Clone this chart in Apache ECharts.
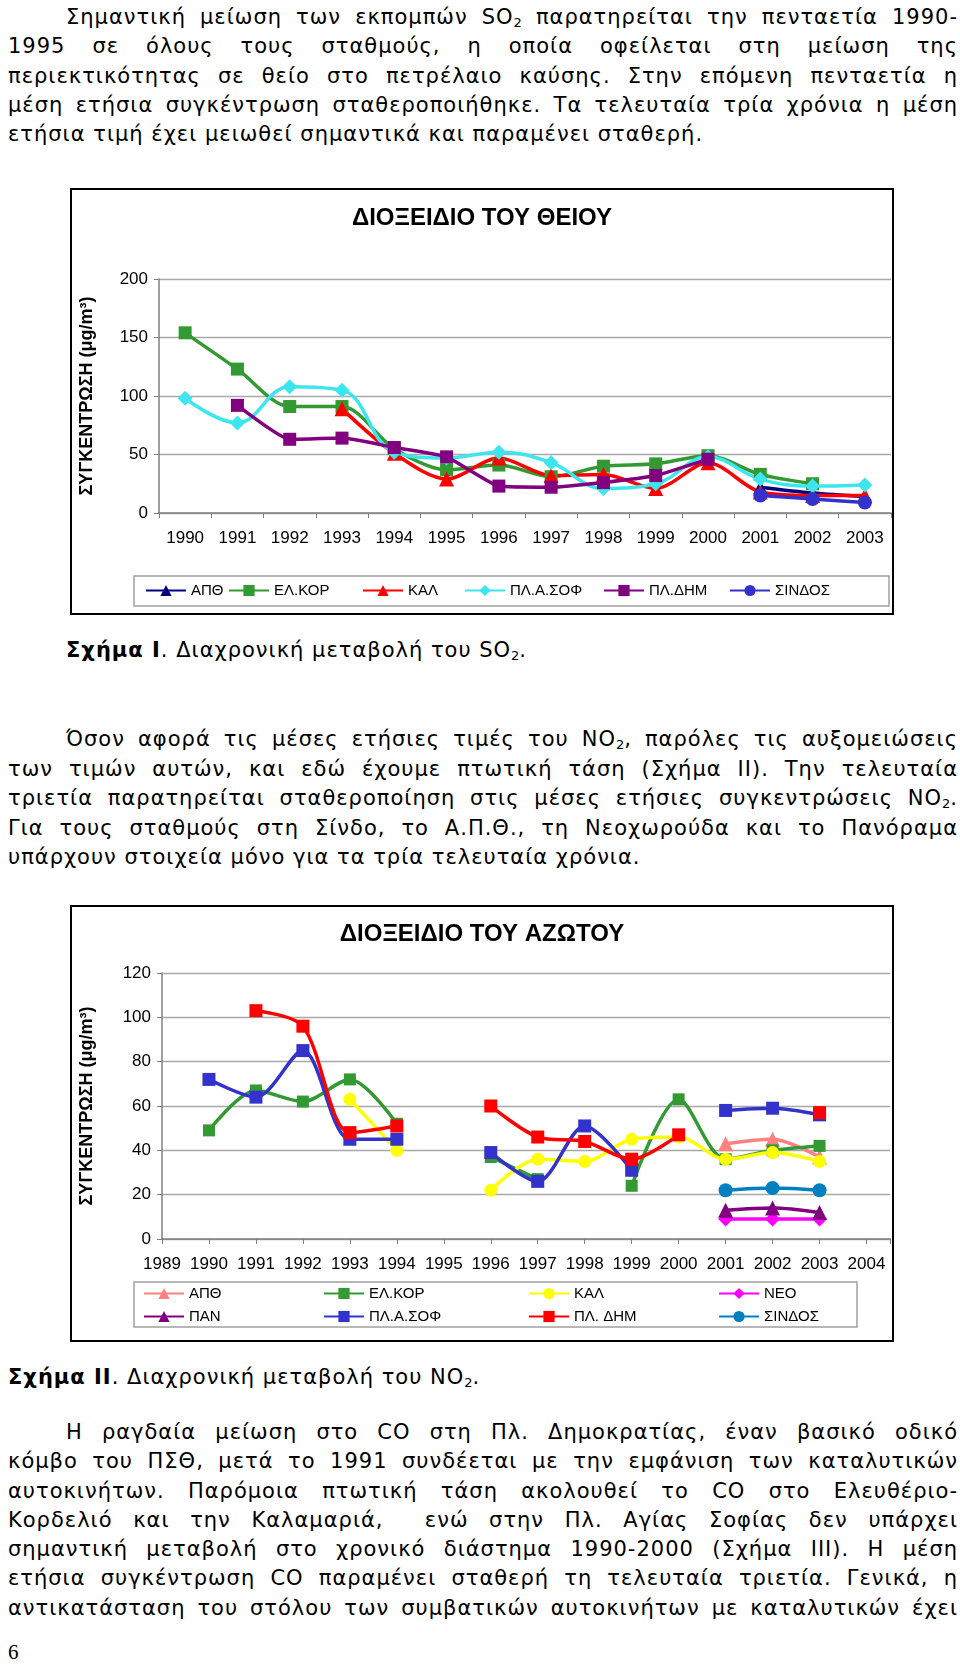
<!DOCTYPE html>
<html><head><meta charset="utf-8">
<script src="https://cdn.jsdelivr.net/npm/echarts@6/dist/echarts.min.js"></script>
<style>
body{margin:0;width:960px;height:1664px;position:relative;background:#fff;font-family:"DejaVu Sans",sans-serif;color:#000;overflow:hidden}
.p{position:absolute;left:8px;width:950px;font-size:21px;letter-spacing:1px;line-height:29.3px}
.p div{text-align:justify;text-align-last:justify}
.p div.i{padding-left:58px}
.p div.last{text-align-last:left}
sub{font-size:13px;vertical-align:-3px;line-height:0;letter-spacing:0}
.frame{position:absolute;border:2px solid #000;box-sizing:border-box;pointer-events:none}
.cap{position:absolute;font-size:21px;letter-spacing:1px;line-height:29px;white-space:nowrap}
#c1,#c2{position:absolute}
</style></head>
<body>
<div class="p" style="top:3px">
<div class="i">Σημαντική μείωση των εκπομπών SO<sub>2</sub> παρατηρείται την πενταετία 1990-</div>
<div>1995 σε όλους τους σταθμούς, η οποία οφείλεται στη μείωση της</div>
<div>περιεκτικότητας σε θείο στο πετρέλαιο καύσης. Στην επόμενη πενταετία η</div>
<div>μέση ετήσια συγκέντρωση σταθεροποιήθηκε. Τα τελευταία τρία χρόνια η μέση</div>
<div class="last">ετήσια τιμή έχει μειωθεί σημαντικά και παραμένει σταθερή.</div>
</div>

<div id="c1" style="left:70px;top:188px;width:824px;height:427px"></div>
<div class="frame" style="left:70px;top:188px;width:824px;height:427px"></div>

<div class="cap" style="left:66px;top:636px"><b>Σχήμα Ι</b>. Διαχρονική μεταβολή του SO<sub>2</sub>.</div>

<div class="p" style="top:725px;line-height:29.5px">
<div class="i">Όσον αφορά τις μέσες ετήσιες τιμές του NO<sub>2</sub>, παρόλες τις αυξομειώσεις</div>
<div>των τιμών αυτών, και εδώ έχουμε πτωτική τάση (Σχήμα ΙΙ). Την τελευταία</div>
<div>τριετία παρατηρείται σταθεροποίηση στις μέσες ετήσιες συγκεντρώσεις NO<sub>2</sub>.</div>
<div>Για τους σταθμούς στη Σίνδο, το Α.Π.Θ., τη Νεοχωρούδα και το Πανόραμα</div>
<div class="last">υπάρχουν στοιχεία μόνο για τα τρία τελευταία χρόνια.</div>
</div>

<div id="c2" style="left:70px;top:905px;width:824px;height:437px"></div>
<div class="frame" style="left:70px;top:905px;width:824px;height:437px"></div>

<div class="cap" style="left:8px;top:1363px"><b>Σχήμα ΙΙ</b>. Διαχρονική μεταβολή του NO<sub>2</sub>.</div>

<div class="p" style="top:1418px">
<div class="i">Η ραγδαία μείωση στο CO στη Πλ. Δημοκρατίας, έναν βασικό οδικό</div>
<div>κόμβο του ΠΣΘ, μετά το 1991 συνδέεται με την εμφάνιση των καταλυτικών</div>
<div>αυτοκινήτων. Παρόμοια πτωτική τάση ακολουθεί το CO στο Ελευθέριο-</div>
<div>Κορδελιό και την Καλαμαριά, &nbsp;ενώ στην Πλ. Αγίας Σοφίας δεν υπάρχει</div>
<div>σημαντική μεταβολή στο χρονικό διάστημα 1990-2000 (Σχήμα ΙΙΙ). Η μέση</div>
<div>ετήσια συγκέντρωση CO παραμένει σταθερή τη τελευταία τριετία. Γενικά, η</div>
<div>αντικατάσταση του στόλου των συμβατικών αυτοκινήτων με καταλυτικών έχει</div>
</div>
<div style="position:absolute;left:8px;top:1640px;font-family:'Liberation Serif',serif;font-size:21px">6</div>

<script>
// ---------- Chart I data (SO2) ----------
const years1 = ['1990','1991','1992','1993','1994','1995','1996','1997','1998','1999','2000','2001','2002','2003'];
const so2_APTH  = [null,null,null,null,null,null,null,null,null,null,null,22,17,14];
const so2_ELKOR = [154,123,91,91,55,37,41,31,40,42,49,33,25,null];
const so2_KAL   = [null,null,null,89,51,29,47,32,33,21,43,18,15,15];
const so2_SOF   = [98,77,108,105,52,47,52,43,21,25,48,29,23,24];
const so2_DHM   = [null,92,63,64,56,48,23,22,26,32,46,null,null,null];
const so2_SIND  = [null,null,null,null,null,null,null,null,null,null,null,15,12,9];
const names1 = ['ΑΠΘ','ΕΛ.ΚΟΡ','ΚΑΛ','ΠΛ.Α.ΣΟΦ','ΠΛ.ΔΗΜ','ΣΙΝΔΟΣ'];
const yTicks1 = [0,50,100,150,200];

// ---------- Chart II data (NO2) ----------
const years2 = [1989,1990,1991,1992,1993,1994,1995,1996,1997,1998,1999,2000,2001,2002,2003,2004];
const no2_APTH  = [null,null,null,null,null,null,null,null,null,null,null,null,43,45,37,null];
const no2_ELKOR = [null,49,67,62,72,52,null,37,27,null,24,63,36,40,42,null];
const no2_KAL   = [null,null,null,null,63,40,null,22,36,35,45,46,36,39,35,null];
const no2_NEO   = [null,null,null,null,null,null,null,null,null,null,null,null,9,9,9,null];
const no2_PAN   = [null,null,null,null,null,null,null,null,null,null,null,null,13,14,12,null];
const no2_SOF   = [null,72,64,85,45,45,null,39,26,51,31,null,58,59,56,null];
const no2_DHM   = [null,null,103,96,48,51,null,60,46,44,36,47,null,null,57,null];
const no2_SIND  = [null,null,null,null,null,null,null,null,null,null,null,null,22,23,22,null];
const names2 = ['ΑΠΘ','ΕΛ.ΚΟΡ','ΚΑΛ','ΝΕΟ','ΠΑΝ','ΠΛ.Α.ΣΟΦ','ΠΛ. ΔΗΜ','ΣΙΝΔΟΣ'];
const yTicks2 = [0,20,40,60,80,100,120];

const FONT = '"Liberation Sans", Arial, sans-serif';

function ser(name, data, color, symbol, size, smooth) {
  return {
    type: 'line', name: name, data: data, smooth: smooth,
    connectNulls: false, symbol: symbol, symbolSize: size,
    showAllSymbol: true,
    lineStyle: {color: color, width: 3.5},
    itemStyle: {color: color, borderWidth: 0},
    emphasis: {disabled: true}, animation: false
  };
}

function yAxisOpt(ticks, gap) {
  return {
    type: 'value', min: ticks[0], max: ticks[ticks.length-1], interval: ticks[1]-ticks[0],
    name: 'ΣΥΓΚΕΝΤΡΩΣΗ (μg/m³)', nameLocation: 'middle', nameGap: gap, nameRotate: 90,
    nameTextStyle: {fontFamily: FONT, fontWeight: 'bold', fontSize: 18, color: '#000'},
    axisLine: {show: true, lineStyle: {color: '#808080', width: 1.5}},
    axisTick: {show: true, length: 5, lineStyle: {color: '#808080'}},
    axisLabel: {fontFamily: FONT, fontSize: 17, color: '#000', margin: 11},
    splitLine: {show: true, lineStyle: {color: '#a8a8a8', width: 1.3}}
  };
}

// ---------- Chart I ----------
const c1 = echarts.init(document.getElementById('c1'), null, {renderer: 'canvas'});
const leg1Left = [75, 158, 292, 394, 533, 659];
c1.setOption({
  animation: false,
  title: {text: 'ΔΙΟΞΕΙΔΙΟ ΤΟΥ ΘΕΙΟΥ', left: 'center', top: 13,
    textStyle: {fontFamily: FONT, fontWeight: 'bold', fontSize: 24, color: '#000'}},
  grid: {left: 81, right: 3, top: 91, bottom: 102},
  xAxis: {type: 'category', data: years1, boundaryGap: true,
    axisLine: {lineStyle: {color: '#808080', width: 1.5}},
    axisTick: {show: true, length: 5, lineStyle: {color: '#808080'}},
    axisLabel: {fontFamily: FONT, fontSize: 17, color: '#000', margin: 17, interval: 0}},
  yAxis: yAxisOpt(yTicks1, 63),
  legend: names1.map((n, i) => ({
    data: [n], left: leg1Left[i], top: 395, padding: 0, itemWidth: 40, itemHeight: 14, itemGap: 5,
    textStyle: {fontFamily: FONT, fontSize: 15, color: '#000'}
  })),
  graphic: [{type: 'rect', shape: {x: 64, y: 388, width: 755, height: 30},
    style: {fill: 'none', stroke: '#a0a0a0', lineWidth: 1.5}, silent: true}],
  series: [
    ser(names1[0], so2_APTH, '#000080', 'triangle', 14, 0.3),
    ser(names1[1], so2_ELKOR, '#339933', 'rect', 13, 0.3),
    ser(names1[2], so2_KAL, '#ff0000', 'triangle', 15, 0.3),
    ser(names1[3], so2_SOF, '#3de6ee', 'diamond', 15, 0.4),
    ser(names1[4], so2_DHM, '#800080', 'rect', 13, 0.15),
    ser(names1[5], so2_SIND, '#3333cc', 'circle', 14, 0.2)
  ]
});

// ---------- Chart II ----------
const c2 = echarts.init(document.getElementById('c2'), null, {renderer: 'canvas'});
const col2Left = [73, 253, 458, 648];
const xy = arr => years2.map((y, i) => [y, arr[i]]);
c2.setOption({
  animation: false,
  title: {text: 'ΔΙΟΞΕΙΔΙΟ ΤΟΥ ΑΖΩΤΟΥ', left: 'center', top: 12,
    textStyle: {fontFamily: FONT, fontWeight: 'bold', fontSize: 24, color: '#000'}},
  grid: {left: 89, right: 4, top: 68, bottom: 103},
  xAxis: {type: 'value', min: years2[0], max: 2004.5, interval: 1,
    splitLine: {show: false},
    axisLine: {lineStyle: {color: '#808080', width: 1.5}},
    axisTick: {show: true, length: 5, lineStyle: {color: '#808080'}},
    axisLabel: {fontFamily: FONT, fontSize: 17, color: '#000', margin: 17,
      formatter: v => (Number.isInteger(v) ? String(v) : '')}},
  yAxis: yAxisOpt(yTicks2, 66),
  legend: col2Left.map((l, c) => ({
    data: [names2[c], names2[c + 4]], orient: 'vertical', left: l, top: 381, padding: 0,
    itemWidth: 40, itemHeight: 14, itemGap: 8,
    textStyle: {fontFamily: FONT, fontSize: 15, color: '#000'}
  })),
  graphic: [{type: 'rect', shape: {x: 64, y: 377, width: 723, height: 45},
    style: {fill: 'none', stroke: '#a0a0a0', lineWidth: 1.5}, silent: true}],
  series: [
    ser(names2[0], xy(no2_APTH), '#ff8080', 'triangle', 15, 0.3),
    ser(names2[1], xy(no2_ELKOR), '#339933', 'rect', 12, 0.3),
    ser(names2[2], xy(no2_KAL), '#ffff00', 'circle', 13, 0.3),
    ser(names2[3], xy(no2_NEO), '#ff00ff', 'diamond', 15, 0.3),
    ser(names2[4], xy(no2_PAN), '#800080', 'triangle', 15, 0.3),
    ser(names2[5], xy(no2_SOF), '#3333cc', 'rect', 13, 0.3),
    ser(names2[6], xy(no2_DHM), '#ff0000', 'rect', 13, 0.3),
    ser(names2[7], xy(no2_SIND), '#0080c0', 'circle', 14, 0.3)
  ]
});
</script>
</body></html>
